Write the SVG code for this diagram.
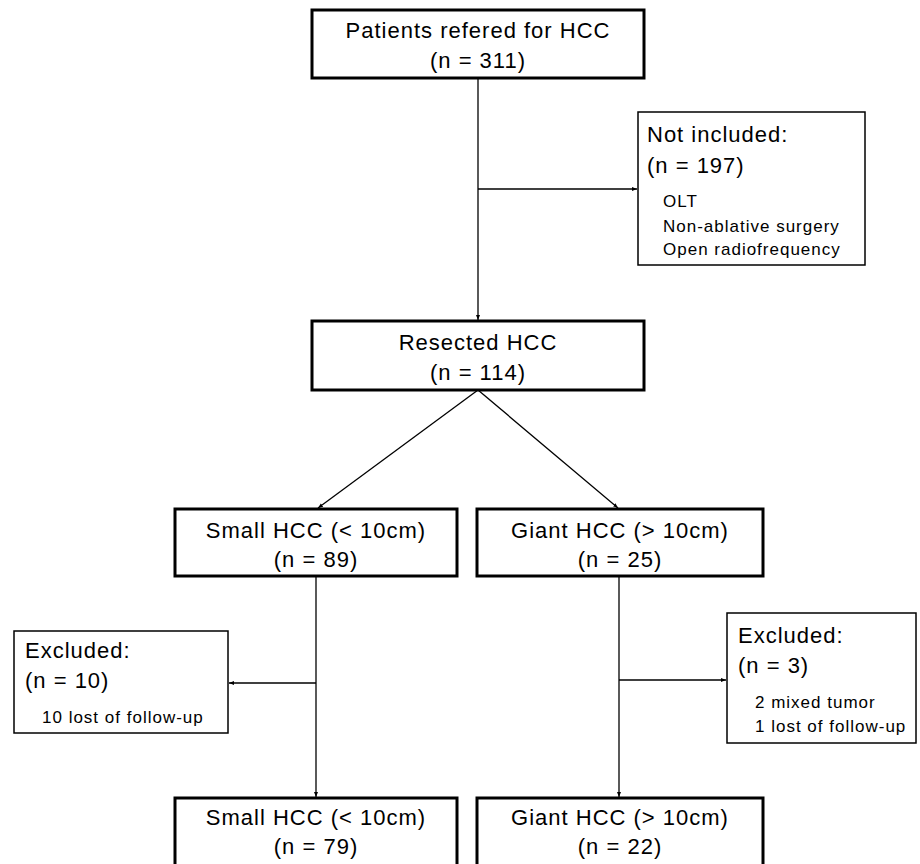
<svg xmlns="http://www.w3.org/2000/svg" width="920" height="864" viewBox="0 0 920 864">
<defs>
<marker id="arr" viewBox="0 0 10 10" refX="10" refY="5" markerWidth="5" markerHeight="5" orient="auto" markerUnits="userSpaceOnUse">
<path d="M0,1 L10,5 L0,9 z" fill="#000"/>
</marker>
<style>
.main{fill:#fff;stroke:#000;stroke-width:3}
.side{fill:#fff;stroke:#000;stroke-width:1.5}
.t{font-family:"Liberation Sans",Arial,sans-serif;font-size:22px;letter-spacing:1px;fill:#000}
.c{text-anchor:middle}
.s{font-family:"Liberation Sans",Arial,sans-serif;font-size:17px;letter-spacing:1px;fill:#000}
.ln{stroke:#000;stroke-width:1.3;fill:none;marker-end:url(#arr)}
</style>
</defs>
<rect width="920" height="864" fill="#fff"/>
<g id="connectors">
<line class="ln" x1="478" y1="78" x2="478" y2="320"/>
<line class="ln" x1="478" y1="189" x2="637" y2="189"/>
<line class="ln" x1="478" y1="390" x2="318" y2="508"/>
<line class="ln" x1="478" y1="390" x2="618" y2="508"/>
<line class="ln" x1="316" y1="576" x2="316" y2="797"/>
<line class="ln" x1="316" y1="683" x2="229" y2="683"/>
<line class="ln" x1="619" y1="576" x2="619" y2="797"/>
<line class="ln" x1="619" y1="680" x2="726" y2="680"/>
</g>
<g id="patients">
<rect class="main" x="312" y="10" width="332" height="68"/>
<text class="t c" x="478" y="38">Patients refered for HCC</text>
<text class="t c" x="478" y="68">(n = 311)</text>
</g>
<g id="not-included">
<rect class="side" x="638" y="112" width="227" height="153"/>
<text class="t" x="647" y="142">Not included:</text>
<text class="t" x="647" y="173">(n = 197)</text>
<text class="s" x="663" y="207">OLT</text>
<text class="s" x="663" y="232">Non-ablative surgery</text>
<text class="s" x="663" y="255">Open radiofrequency</text>
</g>
<g id="resected">
<rect class="main" x="312" y="321" width="332" height="69"/>
<text class="t c" x="478" y="350">Resected HCC</text>
<text class="t c" x="478" y="380">(n = 114)</text>
</g>
<g id="small1">
<rect class="main" x="175" y="509" width="282" height="67"/>
<text class="t c" x="316" y="538">Small HCC (&lt; 10cm)</text>
<text class="t c" x="316" y="567">(n = 89)</text>
</g>
<g id="giant1">
<rect class="main" x="477" y="509" width="286" height="67"/>
<text class="t c" x="620" y="538">Giant HCC (&gt; 10cm)</text>
<text class="t c" x="620" y="567">(n = 25)</text>
</g>
<g id="excluded-left">
<rect class="side" x="14" y="631" width="214" height="102"/>
<text class="t" x="25" y="658">Excluded:</text>
<text class="t" x="25" y="688">(n = 10)</text>
<text class="s" x="42" y="723">10 lost of follow-up</text>
</g>
<g id="excluded-right">
<rect class="side" x="727" y="613" width="189" height="130"/>
<text class="t" x="738" y="643">Excluded:</text>
<text class="t" x="738" y="673">(n = 3)</text>
<text class="s" x="755" y="708">2 mixed tumor</text>
<text class="s" x="755" y="732">1 lost of follow-up</text>
</g>
<g id="small2">
<rect class="main" x="175" y="798" width="282" height="70"/>
<text class="t c" x="316" y="825">Small HCC (&lt; 10cm)</text>
<text class="t c" x="316" y="854">(n = 79)</text>
</g>
<g id="giant2">
<rect class="main" x="477" y="798" width="286" height="70"/>
<text class="t c" x="620" y="825">Giant HCC (&gt; 10cm)</text>
<text class="t c" x="620" y="854">(n = 22)</text>
</g>
</svg>
